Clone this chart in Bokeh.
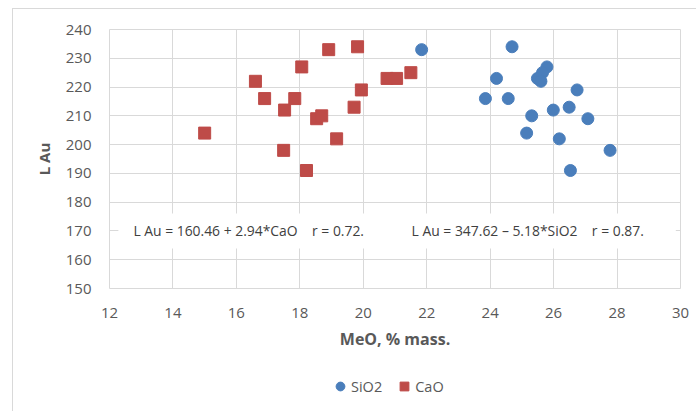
from bokeh.plotting import figure
from bokeh.layouts import column
from bokeh.models import Range1d, FixedTicker, Label, Legend, LegendItem
from bokeh.embed import file_html
from bokeh.resources import INLINE

# ---- data ----
sio2_x = [21.84, 24.69, 24.2, 23.85, 24.57, 25.79, 25.65, 25.49, 25.6, 26.74,
          25.31, 25.99, 26.49, 27.08, 25.15, 26.18, 27.78, 26.53]
sio2_y = [233, 234, 223, 216, 216, 227, 225, 223, 222, 219,
          210, 212, 213, 209, 204, 202, 198, 191]
cao_x = [15.0, 16.6, 16.89, 17.52, 17.49, 17.84, 18.06, 18.21, 18.53, 18.69,
         18.91, 19.16, 19.71, 19.82, 19.94, 20.75, 21.05, 21.5]
cao_y = [204, 222, 216, 212, 198, 216, 227, 191, 209, 210,
         233, 202, 213, 234, 219, 223, 223, 225]
x_ticks = [12, 14, 16, 18, 20, 22, 24, 26, 28, 30]
y_ticks = [150, 160, 170, 180, 190, 200, 210, 220, 230, 240]
eq_y = 170
eq_cao = "L Au = 160.46 + 2.94*CaO \u00a0\u00a0\u00a0r = 0.72."
eq_sio2 = "L Au = 347.62 \u2013 5.18*SiO2 \u00a0\u00a0\u00a0r = 0.87."
x_label = "MeO, % mass."
y_label = "L Au"
series_names = ["SiO2", "CaO"]

FONT = "Open Sans"
GRAY = "#595959"
GRID = "#d9d9d9"
BLUE = "#4a7ebb"
RED = "#be4b48"

p = figure(width=684, height=349, output_backend="svg", toolbar_location=None,
           x_range=Range1d(12, 30), y_range=Range1d(150, 240),
           min_border_left=96, min_border_right=17, min_border_top=20,
           min_border_bottom=70)
p.margin = (8, 0, 0, 12)
p.styles = {"border-left": "1px solid #d9d9d9", "border-top": "1px solid #d9d9d9"}
p.outline_line_color = GRID
p.background_fill_color = "white"
p.border_fill_color = "white"

for ax in (p.xaxis, p.yaxis):
    ax.axis_line_color = None
    ax.major_tick_line_color = None
    ax.minor_tick_line_color = None
    ax.major_label_text_font = FONT
    ax.major_label_text_font_size = "15px"
    ax.major_label_text_color = GRAY
    ax.axis_label_text_font = FONT
    ax.axis_label_text_font_style = "bold"
    ax.axis_label_text_color = GRAY
p.xaxis.ticker = FixedTicker(ticks=x_ticks)
p.yaxis.ticker = FixedTicker(ticks=y_ticks)
p.xaxis.major_label_standoff = 13
p.yaxis.major_label_standoff = 12
p.yaxis.axis_label = y_label
p.yaxis.axis_label_text_font_size = "15px"
p.yaxis.axis_label_standoff = 9
p.xaxis.axis_label = x_label
p.xaxis.axis_label_text_font_size = "16px"
p.xaxis.axis_label_standoff = 7

p.xgrid.ticker = FixedTicker(ticks=x_ticks)
p.ygrid.ticker = FixedTicker(ticks=y_ticks)
p.xgrid.grid_line_color = GRID
p.ygrid.grid_line_color = GRID

p.scatter(sio2_x, sio2_y, marker="circle", size=12, fill_color=BLUE, line_color=BLUE)
p.scatter(cao_x, cao_y, marker="square", size=12, fill_color=RED, line_color=RED)

for txt, xx, pad_r in ((eq_cao, 12.28, 34), (eq_sio2, 21.05, 32)):
    p.add_layout(Label(x=xx, y=eq_y, text=txt, text_font=FONT, text_font_size="13.9px",
                       text_color="#404040", text_baseline="middle", text_align="left",
                       background_fill_color="white",
                       padding={"left": 15, "right": pad_r, "top": 8, "bottom": 8}))

# legend strip under the chart (renderers reuse the data, kept outside its ranges)
p2 = figure(width=684, height=54, output_backend="svg", toolbar_location=None,
            x_range=Range1d(0, 1), y_range=Range1d(0, 1),
            x_axis_location=None, y_axis_location=None,
            min_border_left=0, min_border_right=0, min_border_top=0,
            min_border_bottom=0)
p2.margin = (0, 0, 0, 12)
p2.styles = {"border-left": "1px solid #d9d9d9"}
p2.grid.visible = False
p2.outline_line_color = None
p2.border_fill_color = "white"
l_si = p2.scatter(sio2_x, sio2_y, marker="circle", size=9, fill_color=BLUE, line_color=BLUE)
l_ca = p2.scatter(cao_x, cao_y, marker="square", size=9, fill_color=RED, line_color=RED)
legend = Legend(items=[LegendItem(label=series_names[0], renderers=[l_si]),
                       LegendItem(label=series_names[1], renderers=[l_ca])],
                orientation="horizontal", location=(220, 14),
                label_text_font=FONT, label_text_font_size="14.5px",
                label_text_color=GRAY, glyph_width=22, glyph_height=22,
                label_standoff=0, spacing=11, border_line_color=None,
                background_fill_alpha=0, padding=0, margin=0)
p2.add_layout(legend)

layout = column(p, p2, spacing=0)
open("out.html", "w").write(file_html(layout, INLINE))
